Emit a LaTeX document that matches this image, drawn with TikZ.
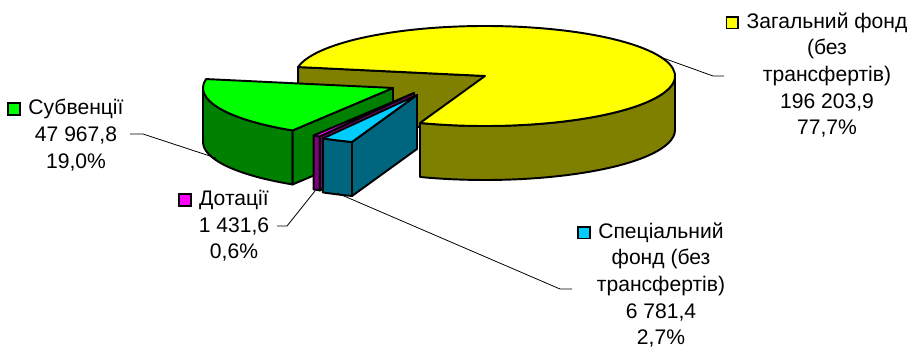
\documentclass[tikz,border=0pt]{standalone}
\usepackage{fontspec}
\setmainfont{Liberation Sans}
\usepackage{tikz}
\usetikzlibrary{calc}
\usepackage{xcolor}

\definecolor{zagtop}{RGB}{255,255,0}
\definecolor{zagside}{RGB}{128,128,0}
\definecolor{subtop}{RGB}{0,255,0}
\definecolor{subside}{RGB}{0,128,0}
\definecolor{dottop}{RGB}{255,0,255}
\definecolor{dotside}{RGB}{128,0,128}
\definecolor{spectop}{RGB}{0,204,255}
\definecolor{specside}{RGB}{0,102,128}

\setlength{\fboxsep}{0pt}
\setlength{\fboxrule}{1pt}
\newcommand{\keybox}[1]{\llap{\raisebox{0.01cm}{\fcolorbox{black}{#1}{\makebox[0.2cm]{\rule{0pt}{0.2cm}}}}\hspace{0.15cm}}}

\begin{document}
\begin{tikzpicture}[x=0.02cm,y=0.02cm,line join=round,
	edge/.style={draw=black,line width=1.1pt},
	leader/.style={draw=black,line width=0.45pt},
	lbl/.style={align=center,inner sep=0pt,font=\fontsize{12}{15.2}\selectfont}]
\useasboundingbox (0,0) rectangle (910,351);
\coordinate (zc) at (485,275);
\coordinate (sc) at (393,263);
\coordinate (dc) at (414,258);
\coordinate (pc) at (417,256);

% Zagalnyi fond
\filldraw[edge,fill=zagside](zc)--++(169.7:190 and 50)--++(0,-54)--($(zc)+(0,-54)$)--cycle;
\filldraw[edge,fill=zagside]($(zc)+(250:190 and 50)$)arc[start angle=250,end angle=360,x radius=190,y radius=50]
	--++(0,-54)arc[start angle=360,end angle=250,x radius=190,y radius=50]--cycle;
\filldraw[edge,fill=zagtop](zc)--++(-110:190 and 50)arc[start angle=-110,end angle=169.7,x radius=190,y radius=50]--cycle;

% Subventsii
\filldraw[edge,fill=subside]($(sc)+(180:190 and 50)$)arc[start angle=180,end angle=238.1,x radius=190,y radius=50]
	--++(0,-54)arc[start angle=238.1,end angle=180,x radius=190,y radius=50]--cycle;
\filldraw[edge,fill=subside](sc)--++(238.1:190 and 50)--++(0,-54)--($(sc)+(0,-54)$)--cycle;
\filldraw[edge,fill=subtop](sc)--++(169.7:190 and 50)arc[start angle=169.7,end angle=238.1,x radius=190,y radius=50]--cycle;

% Dotatsii
\filldraw[edge,fill=dotside]($(dc)+(238.1:190 and 50)$)arc[start angle=238.1,end angle=240.3,x radius=190,y radius=50]
	--++(0,-54)arc[start angle=240.3,end angle=238.1,x radius=190,y radius=50]--cycle;
\filldraw[edge,fill=dotside](dc)--++(240.3:190 and 50)--++(0,-54)--($(dc)+(0,-54)$)--cycle;
\filldraw[edge,fill=dottop](dc)--++(238.1:190 and 50)arc[start angle=238.1,end angle=240.3,x radius=190,y radius=50]--cycle;

% Spetsialnyi fond
\filldraw[edge,fill=specside]($(pc)+(240.3:190 and 50)$)arc[start angle=240.3,end angle=250,x radius=190,y radius=50]
	--++(0,-54)arc[start angle=250,end angle=240.3,x radius=190,y radius=50]--cycle;
\filldraw[edge,fill=specside](pc)--++(250:190 and 50)--++(0,-54)--($(pc)+(0,-54)$)--cycle;
\filldraw[edge,fill=spectop](pc)--++(240.3:190 and 50)arc[start angle=240.3,end angle=250,x radius=190,y radius=50]--cycle;

% labels
\node[lbl](zagal) at (827,276){\keybox{zagtop}Загальний фонд\\(без\\трансфертів)\\196 203,9\\77,7\%};
\node[lbl](subv) at (76,216){\keybox{subtop}Субвенції\\47 967,8\\19,0\%};
\node[lbl](dotac) at (234,125){\keybox{dottop}Дотації\\1 431,6\\0,6\%};
\node[lbl](spec) at (661,66){\keybox{spectop}Спеціальний\\фонд (без\\трансфертів)\\6 781,4\\2,7\%};

% leaders
\coordinate (zagal-tip) at (663,293);
\coordinate (zagal-knee) at (713,275);
\coordinate (zagal-end) at (724,275);
\coordinate (subv-tip) at (216,193);
\coordinate (subv-knee) at (143,217);
\coordinate (subv-end) at (130,217);
\coordinate (dotac-tip) at (315,160);
\coordinate (dotac-knee) at (287,125);
\coordinate (dotac-end) at (277,125);
\coordinate (spec-tip) at (337,158);
\coordinate (spec-knee) at (560,62);
\coordinate (spec-end) at (572,62);
\draw[leader](zagal-tip)--(zagal-knee)--(zagal-end);
\draw[leader](subv-tip)--(subv-knee)--(subv-end);
\draw[leader](dotac-tip)--(dotac-knee)--(dotac-end);
\draw[leader](spec-tip)--(spec-knee)--(spec-end);
\end{tikzpicture}
\end{document}
